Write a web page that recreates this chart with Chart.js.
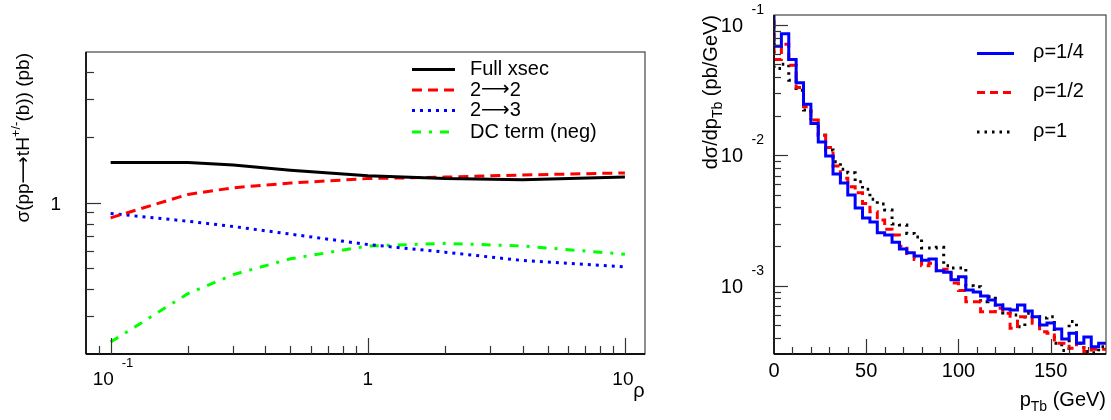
<!DOCTYPE html>
<html>
<head>
<meta charset="utf-8">
<script src="https://cdn.jsdelivr.net/npm/chart.js@4/dist/chart.umd.min.js"></script>
<style>
html, body { margin: 0; padding: 0; background: #fff; }
#wrap { position: relative; width: 1111px; height: 420px; }
canvas { position: absolute; left: 0; top: 0; }
</style>
</head>
<body>
<div id="wrap">
  <canvas id="xsecChart" width="1111" height="420"></canvas>
  <canvas id="ptChart" width="1111" height="420"></canvas>
</div>
<script>
// left panel: cross section vs rho
const rho = [0.1, 0.2, 0.3, 0.5, 1, 2, 4, 10];
const fullXsec = [1.53, 1.53, 1.49, 1.41, 1.33, 1.29, 1.275, 1.31];
const twoToTwo = [0.85, 1.09, 1.17, 1.23, 1.29, 1.31, 1.34, 1.37];
const twoToThree = [0.89, 0.82, 0.775, 0.715, 0.64, 0.59, 0.54, 0.505];
const dcTerm = [0.227, 0.38, 0.465, 0.55, 0.63, 0.648, 0.63, 0.577];
const xsecLabels = ['Full xsec', '2\u27f62', '2\u27f63', 'DC term (neg)'];

// right panel: pT of b, 4 GeV bins from 0 to 180
const binWidth = 4;
const rhoQuarter = [0.0689, 0.0859, 0.0545, 0.0361, 0.0247, 0.0176, 0.0127, 0.00988, 0.00719, 0.00614,
  0.00497, 0.00395, 0.00331, 0.00308, 0.00255, 0.00245, 0.00216, 0.00191, 0.00179, 0.00169,
  0.00157, 0.00160, 0.00130, 0.00127, 0.00111, 0.00117, 0.000927, 0.000895, 0.000834, 0.000777,
  0.000711, 0.000662, 0.000651, 0.000711, 0.000640, 0.000578, 0.000500, 0.000518, 0.000466, 0.000390,
  0.000431, 0.000361, 0.000404, 0.000340, 0.000361];
const rhoHalf = [0.0545, 0.0715, 0.0492, 0.0332, 0.0236, 0.0187, 0.0143, 0.0115, 0.00828, 0.00667,
  0.00574, 0.00516, 0.00428, 0.00369, 0.00319, 0.00271, 0.00245, 0.00201, 0.00177, 0.00159,
  0.00142, 0.00149, 0.00130, 0.00134, 0.00105, 0.00092, 0.000753, 0.000753, 0.000632, 0.000632,
  0.000671, 0.000614, 0.000471, 0.000578, 0.000578, 0.000515, 0.000444, 0.000431, 0.000361, 0.000361,
  0.000331, 0.000361, 0.000312, 0.000325, 0.000325];
const rhoOne = [0.0465, 0.0501, 0.0378, 0.0317, 0.0223, 0.0176, 0.0143, 0.0110, 0.00893, 0.00782,
  0.00736, 0.00628, 0.00549, 0.00460, 0.00424, 0.00381, 0.00297, 0.00292, 0.00252, 0.00236,
  0.00195, 0.00195, 0.00197, 0.00142, 0.00137, 0.00137, 0.00100, 0.000982, 0.000753, 0.000824,
  0.000711, 0.000618, 0.000596, 0.000485, 0.000614, 0.000578, 0.000565, 0.000578, 0.000361, 0.000318,
  0.000530, 0.000361, 0.000312, 0.000306, 0.000340];
// value the first edge line comes down from
const leadQuarter = 0.13;
const leadHalf = 0.109;
const leadOne = 0.073;
const ptLabels = ['\u03c1=1/4', '\u03c1=1/2', '\u03c1=1'];

const pTickLabels = [0, 50, 100, 150];

const FONT = '"Liberation Sans", Arial, Helvetica, sans-serif';
const ARROW_FONT = '"DejaVu Sans", sans-serif';
const W = 1111, H = 420;

function pairs(xs, ys) {
    return xs.map((x, i) => ({ x: x, y: ys[i] }));
}

function histPoints(lead, vals) {
    const pts = [{ x: 0, y: lead }];
    vals.forEach((v, i) => pts.push({ x: i * binWidth, y: v }));
    pts.push({ x: vals.length * binWidth, y: vals[vals.length - 1] });
    return pts;
}

function logTicks(min, max) {
    const out = [];
    for (let e = Math.floor(Math.log10(min)); e <= Math.ceil(Math.log10(max)); e++) {
        for (let m = 1; m <= 9; m++) {
            const v = m * Math.pow(10, e);
            if (v > min * 1.01 && v < max * 0.99) out.push({ v: v, major: m === 1 });
        }
    }
    return out;
}

function line(ctx, x1, y1, x2, y2) {
    ctx.beginPath();
    ctx.moveTo(x1, y1);
    ctx.lineTo(x2, y2);
    ctx.stroke();
}

function drawFrame(ctx, a) {
    ctx.save();
    ctx.strokeStyle = '#444';
    ctx.lineWidth = 1.2;
    ctx.strokeRect(a.left, a.top, a.right - a.left, a.bottom - a.top);
    ctx.strokeStyle = '#111';
    ctx.lineWidth = 1.8;
    line(ctx, a.left, a.top, a.left, a.bottom);
    line(ctx, a.left, a.bottom, a.right, a.bottom);
    ctx.restore();
}

// split text so arrows use a font with a long arrow glyph
function runsOf(text, size, dy) {
    const runs = [];
    text.split(/(\u27f6)/).forEach(part => {
        if (!part) return;
        runs.push({ t: part, font: size + 'px ' + (part === '\u27f6' ? ARROW_FONT : FONT), dy: dy || 0 });
    });
    return runs;
}

function runsWidth(ctx, runs) {
    return runs.reduce((w, r) => { ctx.font = r.font; return w + ctx.measureText(r.t).width; }, 0);
}

function drawRuns(ctx, runs, x, y) {
    ctx.textAlign = 'left';
    runs.forEach(r => {
        ctx.font = r.font;
        ctx.fillText(r.t, x, y + r.dy);
        x += ctx.measureText(r.t).width;
    });
}

// superscript label like 10^-1
function powText(ctx, x, y, base, exp, size, expDy, gap) {
    ctx.font = size + 'px ' + FONT;
    const wb = ctx.measureText(base).width;
    ctx.textAlign = 'left';
    ctx.textBaseline = 'middle';
    ctx.fillText(base, x, y);
    if (exp) {
        ctx.font = Math.round(size * 0.7) + 'px ' + FONT;
        ctx.fillText(exp, x + wb + gap, y + expDy);
    }
}

function legendRow(ctx, x1, x2, y, ds) {
    ctx.save();
    ctx.strokeStyle = ds.borderColor;
    ctx.lineWidth = ds.borderWidth;
    ctx.setLineDash(ds.borderDash || []);
    line(ctx, x1, y, x2, y);
    ctx.restore();
}

const xsecDecor = {
    id: 'xsecDecor',
    afterDraw(chart) {
        const ctx = chart.ctx, a = chart.chartArea;
        const xs = chart.scales.x, ys = chart.scales.y;
        drawFrame(ctx, a);
        ctx.save();
        ctx.strokeStyle = '#333';
        ctx.lineWidth = 1.2;
        logTicks(xs.min, xs.max).forEach(t => {
            const px = Math.round(xs.getPixelForValue(t.v)) + 0.5;
            line(ctx, px, a.bottom, px, a.bottom - (t.major ? 16 : 8));
        });
        logTicks(ys.min, ys.max).forEach(t => {
            const py = Math.round(ys.getPixelForValue(t.v)) + 0.5;
            line(ctx, a.left, py, a.left + (t.major ? 15 : 8), py);
        });
        ctx.fillStyle = '#000';
        ctx.textBaseline = 'middle';
        // x labels
        const px = xs.getPixelForValue(0.1);
        powText(ctx, px - 18, 380, '10', '-1', 19, -17, 8);
        ctx.font = '19px ' + FONT;
        ctx.textAlign = 'center';
        ctx.fillText('1', xs.getPixelForValue(1), 380);
        ctx.fillText('10', xs.getPixelForValue(10) - 2, 380);
        ctx.textAlign = 'right';
        ctx.fillText('1', a.left - 25, ys.getPixelForValue(1) + 2);
        // axis titles
        ctx.font = '20px ' + FONT;
        ctx.textAlign = 'center';
        ctx.fillText('\u03c1', 639, 391);
        ctx.save();
        ctx.translate(24, 53);
        ctx.rotate(-Math.PI / 2);
        const title = runsOf('\u03c3(pp\u27f6tH', 19)
            .concat(runsOf('+/-', 13, -8))
            .concat(runsOf('(b)) (pb)', 19));
        drawRuns(ctx, title, -runsWidth(ctx, title), 0);
        ctx.restore();
        // legend
        const rows = [69.5, 90, 110.5, 132];
        chart.data.datasets.forEach((ds, i) => {
            legendRow(ctx, 412, 455, rows[i], ds);
            drawRuns(ctx, runsOf(xsecLabels[i], 20), 470, rows[i]);
        });
        ctx.restore();
    }
};

const ptDecor = {
    id: 'ptDecor',
    afterDraw(chart) {
        const ctx = chart.ctx, a = chart.chartArea;
        const xs = chart.scales.x, ys = chart.scales.y;
        drawFrame(ctx, a);
        ctx.save();
        ctx.strokeStyle = '#333';
        ctx.lineWidth = 1.2;
        for (let v = 10; v < xs.max; v += 10) {
            const px = Math.round(xs.getPixelForValue(v)) + 0.5;
            line(ctx, px, a.bottom, px, a.bottom - (v % 50 === 0 ? 15 : 7));
        }
        logTicks(ys.min, ys.max).forEach(t => {
            const py = Math.round(ys.getPixelForValue(t.v)) + 0.5;
            line(ctx, a.left, py, a.left + (t.major ? 14 : 7), py);
        });
        ctx.fillStyle = '#000';
        ctx.font = '20px ' + FONT;
        ctx.textAlign = 'center';
        ctx.textBaseline = 'middle';
        pTickLabels.forEach(v => ctx.fillText(String(v), xs.getPixelForValue(v), 371));
        [[0.1, '-1'], [0.01, '-2'], [0.001, '-3']].forEach(([v, e]) => {
            const py = ys.getPixelForValue(v);
            ctx.font = '20px ' + FONT;
            const wb = ctx.measureText('10').width;
            powText(ctx, a.left - 31 - wb, py + 1.5, '10', e, 20, -16.5, 8.5);
        });
        // x title
        const xt = runsOf('p', 20).concat(runsOf('Tb', 14, 7)).concat(runsOf(' (GeV)', 20));
        drawRuns(ctx, xt, a.right - runsWidth(ctx, xt), 400);
        // y title
        ctx.save();
        ctx.translate(711, 15);
        ctx.rotate(-Math.PI / 2);
        const yt = runsOf('d\u03c3/dp', 20).concat(runsOf('Tb', 14, 7)).concat(runsOf(' (pb/GeV)', 20));
        drawRuns(ctx, yt, -runsWidth(ctx, yt), 0);
        ctx.restore();
        // legend
        const rows = [53.5, 92.5, 132];
        ctx.font = '20px ' + FONT;
        ctx.textAlign = 'left';
        chart.data.datasets.forEach((ds, i) => {
            legendRow(ctx, 977, 1014, rows[i], ds);
            ctx.fillText(ptLabels[i], 1033, rows[i] - 1);
        });
        ctx.restore();
    }
};

const common = {
    responsive: false,
    animation: false,
    events: [],
    plugins: { legend: { display: false }, tooltip: { enabled: false } },
    elements: { point: { radius: 0 }, line: { tension: 0, fill: false } }
};

new Chart(document.getElementById('xsecChart'), {
    type: 'line',
    data: {
        datasets: [
            { data: pairs(rho, fullXsec), borderColor: '#000000', borderWidth: 3 },
            { data: pairs(rho, twoToTwo), borderColor: '#ff0000', borderWidth: 3, borderDash: [10, 6] },
            { data: pairs(rho, twoToThree), borderColor: '#0000ff', borderWidth: 3, borderDash: [3, 5] },
            { data: pairs(rho, dcTerm), borderColor: '#00ff00', borderWidth: 3, borderDash: [9, 8, 3, 8] }
        ]
    },
    options: Object.assign({}, common, {
        layout: { padding: { left: 86, top: 52, right: W - 645, bottom: H - 354 } },
        scales: {
            x: { type: 'logarithmic', min: 0.0802, max: 11.97, display: false },
            y: { type: 'logarithmic', min: 0.2, max: 4.95, display: false }
        }
    }),
    plugins: [xsecDecor]
});

new Chart(document.getElementById('ptChart'), {
    type: 'line',
    data: {
        datasets: [
            { data: histPoints(leadQuarter, rhoQuarter), borderColor: '#0000ff', borderWidth: 3, stepped: true },
            { data: histPoints(leadHalf, rhoHalf), borderColor: '#ff0000', borderWidth: 3, borderDash: [8, 5], stepped: true },
            { data: histPoints(leadOne, rhoOne), borderColor: '#000000', borderWidth: 3, borderDash: [2.5, 5], stepped: true }
        ]
    },
    options: Object.assign({}, common, {
        layout: { padding: { left: 774, top: 15, right: W - 1106, bottom: H - 354 } },
        scales: {
            x: { type: 'linear', min: 0, max: 180, display: false },
            y: { type: 'logarithmic', min: 0.000299, max: 0.1197, display: false }
        }
    }),
    plugins: [ptDecor]
});
</script>
</body>
</html>
